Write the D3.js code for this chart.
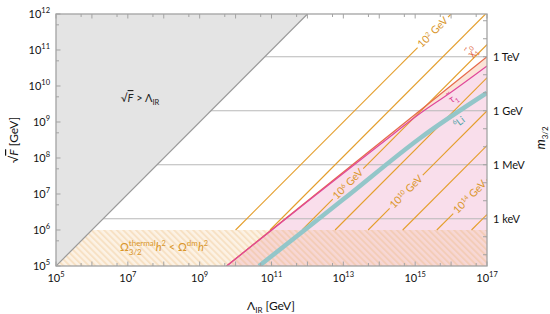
<!DOCTYPE html>
<html><head><meta charset="utf-8">
<script src="https://cdn.jsdelivr.net/npm/d3@7"></script>
<style>body{margin:0;background:#fff} text{font-family:Lato,"Open Sans",sans-serif;white-space:pre}</style>
</head><body><svg id="c" width="550" height="314"></svg>
<script>
// ---------------- data ----------------
const xTickExps = [5,7,9,11,13,15,17];
const yTickExps = [5,6,7,8,9,10,11,12];
const massLabels = ["1 keV","1 MeV","1 GeV","1 TeV"];
const massValuesGeV = [1e-6,1e-3,1,1e3];
const massTickExps = [-8,-7,-6,-5,-4,-3,-2,-1,0,1,2,3,4,5];
const sqrt3MPl = 4.218e18; // GeV
const tempExps = [2,4,6,8,10,12,14,16];
const tempLineStartLambda = [1.0e10, 9.1e10, 7.1e11, 5.9e12, 4.9e13, 4.5e14, 4.0e15, 3.7e16]; // at sqrtF = 1e6
const tempLabelSqrtF = {2: 3.1e11, 6: 1.9e7, 10: 1.15e7, 14: 8.3e6};
const neutralinoLine = [[5.6e9,1e5],[1e17,6.5e10]];
const stauLine = [[5.65e9,1e5],[1.18e12,7.0e6],[1.05e14,2.37e8],[1.36e15,1.72e9],[9.3e15,6.4e9],[1e17,3.6e10]];
const li6Line = [[4.5e10,1e5],[1e13,7.1e6],[1.36e15,3.55e8],[1e17,6.5e9]];
const thermalBound = 1e6;

// ---------------- setup ----------------
const L=56, R=487, T=14, B=266;
const x = d3.scaleLog().domain([1e5,1e17]).range([L,R]);
const y = d3.scaleLog().domain([1e5,1e12]).range([B,T]);
const svg = d3.select("#c");
const defs = svg.append("defs");
defs.append("clipPath").attr("id","clip").append("rect").attr("x",L).attr("y",T).attr("width",R-L).attr("height",B-T);
const pat = defs.append("pattern").attr("id","hatch").attr("patternUnits","userSpaceOnUse")
  .attr("width",4.5).attr("height",4.5).attr("patternTransform","rotate(-45)");
pat.append("rect").attr("width",4.5).attr("height",4.5).attr("fill","rgba(238,185,110,0.18)");
pat.append("rect").attr("width",2).attr("height",4.5).attr("fill","rgba(232,170,90,0.24)");

const plot = svg.append("g").attr("clip-path","url(#clip)");
const P = d => [x(d[0]), y(d[1])];
const curve = d3.line().curve(d3.curveCatmullRom);
const poly = d3.line();
const mToSqrtF = m => Math.sqrt(m*sqrt3MPl);
const ORANGE = "#E49E2C";

// fills
plot.append("path").attr("d", curve(stauLine.map(P)) + "L" + poly([P([1e17,1e5])]).slice(1) + "Z").attr("fill","#F9DEEB");
plot.append("path").attr("d", poly(neutralinoLine.map(P)) + "L" + curve(stauLine.slice().reverse().map(P)).slice(1) + "Z").attr("fill","#FBE3D7");

// grey m lines
massValuesGeV.forEach(m => {
  plot.append("line").attr("x1",L).attr("x2",R).attr("y1",y(mToSqrtF(m))).attr("y2",y(mToSqrtF(m)))
    .attr("stroke","#b9b9b9").attr("stroke-width",1.2);
});

// hatch region
plot.append("path").attr("d", poly([[1e5,1e5],[thermalBound,thermalBound],[1e17,thermalBound],[1e17,1e5]].map(P))+"Z")
  .attr("fill","url(#hatch)");

// rich text helper
function rich(parent, parts, anchor, color, baseSize){
  const g = parent.append("g").attr("fill", color);
  let cx = 0, prevStart = 0, prevW = 0, stackStart = null;
  parts.forEach(p => {
    const size = p.size || baseSize;
    if (p.accent){
      g.append("text").attr("x", prevStart + prevW/2).attr("y", p.dy||0).attr("font-size", size)
        .attr("text-anchor","middle").text(p.t);
      return;
    }
    let sx = cx;
    if (p.stack) sx = stackStart;
    const t = g.append("text").attr("x", sx).attr("y", p.dy||0).attr("font-size", size).text(p.t);
    if (p.italic) t.attr("font-style","italic");
    if (p.over) t.attr("text-decoration","overline");
    const w = t.node().getComputedTextLength();
    if (p.stack){ cx = Math.max(cx, sx + w); }
    else { stackStart = sx; cx = sx + w; }
    prevStart = sx; prevW = w;
  });
  const shift = anchor === "middle" ? -cx/2 : anchor === "end" ? -cx : 0;
  g.selectAll("text").attr("x", function(){ return +this.getAttribute("x") + shift; });
  return {g, width: cx};
}

// orange temperature lines with labels
const labelLayer = svg.append("g");
tempExps.forEach((e,i) => {
  const L0 = tempLineStartLambda[i];
  const p0 = P([L0, thermalBound]), p1 = P([L0*1e6, 1e12]);
  const dx = p1[0]-p0[0], dy = p1[1]-p0[1], len = Math.hypot(dx,dy);
  const u = [dx/len, dy/len];
  const ang = Math.atan2(dy,dx)*180/Math.PI;
  const segs = [];
  if (tempLabelSqrtF[e]){
    const s = tempLabelSqrtF[e];
    const c = P([L0*(s/thermalBound), s]);
    const lg = labelLayer.append("g").attr("transform",`translate(${c[0]},${c[1]}) rotate(${ang})`);
    const r = rich(lg, [{t:"10"},{t:String(e), size:6.5, dy:-3.5},{t:" GeV"}], "middle", "#D9962A", 10.5);
    r.g.attr("transform","translate(0,3.5)");
    const gap = r.width/2 + 2.5;
    segs.push([p0, [c[0]-u[0]*gap, c[1]-u[1]*gap]], [[c[0]+u[0]*gap, c[1]+u[1]*gap], p1]);
  } else segs.push([p0,p1]);
  segs.forEach(sg => plot.append("path").attr("d", poly(sg)).attr("stroke",ORANGE).attr("stroke-width",1.1).attr("fill","none"));
});

// bound curves
plot.append("path").attr("d", curve(li6Line.map(P))).attr("stroke","#93C6C9").attr("stroke-width",4.5).attr("fill","none");
plot.append("path").attr("d", poly(neutralinoLine.map(P))).attr("stroke","#E66A4A").attr("stroke-width",1.3).attr("fill","none");
plot.append("path").attr("d", curve(stauLine.map(P))).attr("stroke","#E0479A").attr("stroke-width",1.2).attr("fill","none");

// excluded triangle
plot.append("path").attr("d", poly([[1e5,1e5],[1e12,1e12],[1e5,1e12]].map(P))+"Z").attr("fill","#e4e4e4");
plot.append("path").attr("d", poly([[1e5,1e5],[1e12,1e12]].map(P))).attr("stroke","#999").attr("stroke-width",1.2);

// frame & ticks
const ax = svg.append("g").attr("stroke","#a3a3a3");
ax.append("rect").attr("x",L).attr("y",T).attr("width",R-L).attr("height",B-T).attr("fill","none").attr("stroke-width",1.3);
for (let e=5;e<=17;e++){
  [[1,4.5],[5,3]].forEach(([k,len])=>{
    const v = k*Math.pow(10,e); if (v>1e17) return;
    const px = x(v);
    ax.append("line").attr("x1",px).attr("x2",px).attr("y1",B).attr("y2",B-len);
    ax.append("line").attr("x1",px).attr("x2",px).attr("y1",T).attr("y2",T+len);
  });
}
for (let e=5;e<=12;e++){
  [[1,4.5],[5,3]].forEach(([k,len])=>{
    const v = k*Math.pow(10,e); if (v>1e12) return;
    ax.append("line").attr("x1",L).attr("x2",L+len).attr("y1",y(v)).attr("y2",y(v));
  });
}
massTickExps.forEach(e => {
  const py = y(mToSqrtF(Math.pow(10,e)));
  ax.append("line").attr("x1",R).attr("x2",R-4).attr("y1",py).attr("y2",py);
});

// tick labels
xTickExps.forEach(e => {
  const g = svg.append("g").attr("transform",`translate(${x(Math.pow(10,e))},282)`);
  rich(g, [{t:"10"},{t:String(e), size:7.5, dy:-5}], "middle", "#111", 11);
});
yTickExps.forEach(e => {
  const g = svg.append("g").attr("transform",`translate(50,${y(Math.pow(10,e))+4})`);
  rich(g, [{t:"10"},{t:String(e), size:7.5, dy:-5}], "end", "#111", 11);
});
massLabels.forEach((lab,i) => {
  svg.append("text").attr("x",493).attr("y",y(mToSqrtF(massValuesGeV[i]))+4).attr("font-size",11).attr("fill","#111").text(lab);
});

// axis titles
{
  const g = svg.append("g").attr("transform","translate(271,310)");
  rich(g, [{t:"Λ"},{t:"IR", size:8, dy:3},{t:" [GeV]"}], "middle", "#111", 12);
  const g2 = svg.append("g").attr("transform","translate(18,140) rotate(-90)");
  rich(g2, [{t:"√"},{t:"F", italic:true, over:true},{t:" [GeV]"}], "middle", "#111", 12);
  const g3 = svg.append("g").attr("transform","translate(545,138) rotate(-90)");
  rich(g3, [{t:"m", italic:true, size:13},{t:"3/2", size:8, dy:3}], "middle", "#111", 12);
}

// region labels
{
  const g = svg.append("g").attr("transform","translate(140,102)");
  rich(g, [{t:"√"},{t:"F", italic:true, over:true},{t:" > Λ"},{t:"IR", size:7.5, dy:2.5}], "middle", "#222", 11);
  const g2 = svg.append("g").attr("transform","translate(164,251)");
  rich(g2, [{t:"Ω"},{t:"thermal", size:8, dy:-5},{t:"3/2", size:8, dy:4, stack:true},{t:"h", italic:true},{t:"2", size:7.5, dy:-5},
            {t:" < Ω"},{t:"dm", size:8, dy:-5},{t:"h", italic:true},{t:"2", size:7.5, dy:-5}], "middle", "#D9962A", 11);
}

// curve labels
{
  const g = svg.append("g").attr("transform","translate(472,52) rotate(-50)");
  const r = rich(g, [{t:"χ"},{t:"~", size:8, dy:-8, accent:true},{t:"0", size:6.5, dy:-4},{t:"1", size:6.5, dy:3.5, stack:true}], "middle", "#E0603A", 10);
  r.g.attr("transform","translate(0,3.5)");
  const g2 = svg.append("g").attr("transform","translate(453,98) rotate(-34)");
  const r2 = rich(g2, [{t:"τ"},{t:"~", size:8, dy:-8, accent:true},{t:"1", size:6.5, dy:3}], "middle", "#D93A8E", 10);
  r2.g.attr("transform","translate(0,3.5)");
  const g3 = svg.append("g").attr("transform","translate(459,122) rotate(-37)");
  const r3 = rich(g3, [{t:"6", size:6.5, dy:-4},{t:"Li"}], "middle", "#4FA3A8", 10);
  r3.g.attr("transform","translate(0,3.5)");
}
</script></body></html>
